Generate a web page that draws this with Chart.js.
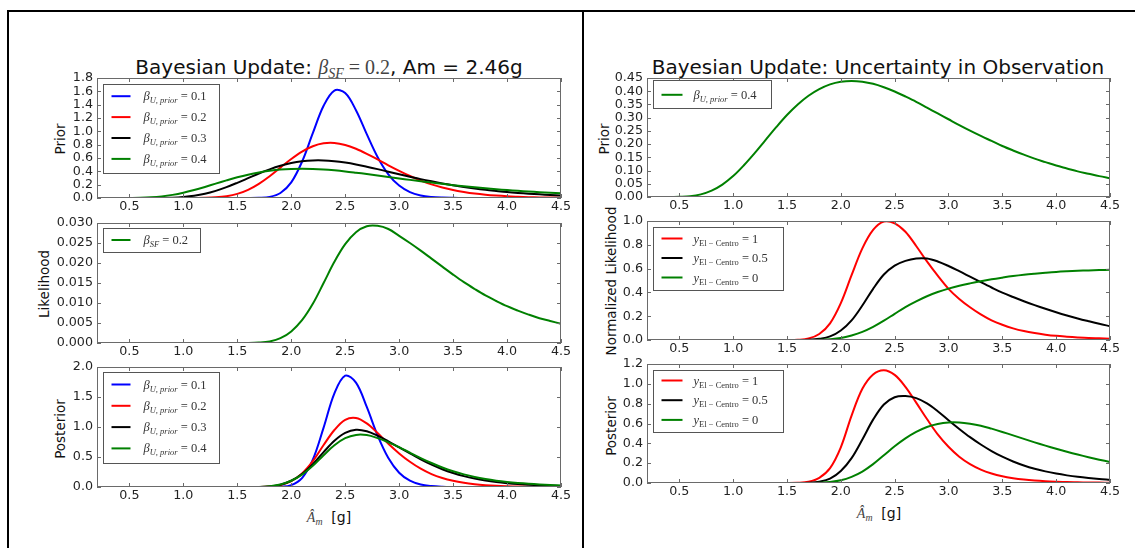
<!DOCTYPE html>
<html>
<head>
<meta charset="utf-8">
<script src="https://cdn.jsdelivr.net/npm/chart.js@4.4.0/dist/chart.umd.min.js"></script>
<style>
  body { margin: 0; width: 1135px; height: 548px; background: #fff; position: relative; overflow: hidden; font-family: "DejaVu Sans", sans-serif; color: #111; }
  canvas { position: absolute; }
  .rule { position: absolute; background: #000; }
  .title { position: absolute; top: 57px; font-size: 20px; line-height: 20px; white-space: nowrap; transform: translateX(-50%); }
  .mi { font-family: "Liberation Serif", serif; font-style: italic; color: #444; }
  .mr { font-family: "Liberation Serif", serif; color: #444; }
  .sub { position: relative; top: 0.3em; font-size: 70%; }
  .ylab { position: absolute; font-size: 13.5px; line-height: 1; white-space: nowrap; transform: translate(-50%, -50%) rotate(-90deg); }
  .xlab { position: absolute; font-size: 14px; line-height: 14px; white-space: nowrap; transform: translateX(-50%); }
</style>
</head>
<body>
<div class="rule" style="left:7px;top:10px;right:0;height:2px"></div>
<div class="rule" style="left:7px;top:10px;width:2px;bottom:0"></div>
<div class="rule" style="left:582px;top:10px;width:2px;bottom:0"></div>

<div class="title" style="left:329px">Bayesian Update: <span class="mi">β<span class="sub">SF</span></span><span class="mr"> = 0.2</span>, Am = 2.46g</div>
<div class="title" style="left:878px">Bayesian Update: Uncertainty in Observation</div>

<div class="ylab" style="left:61px;top:139px">Prior</div>
<div class="ylab" style="left:45px;top:284px">Likelihood</div>
<div class="ylab" style="left:61px;top:429px">Posterior</div>
<div class="ylab" style="left:605px;top:139px">Prior</div>
<div class="ylab" style="left:612px;top:281px">Normalized Likelihood</div>
<div class="ylab" style="left:612px;top:426px">Posterior</div>

<div class="xlab" style="left:329px;top:510px"><span class="mi">Â<span class="sub">m</span></span>&nbsp;&nbsp;[g]</div>
<div class="xlab" style="left:879px;top:506px"><span class="mi">Â<span class="sub">m</span></span>&nbsp;&nbsp;[g]</div>

<script>
// grille des abscisses Â_m [g]
const amGrid = [0.2, 0.3, 0.4, 0.5, 0.6, 0.7, 0.8, 0.9, 1.0, 1.1, 1.2, 1.3, 1.4, 1.5, 1.6, 1.7, 1.8, 1.9, 2.0, 2.1, 2.2,
  2.3, 2.4, 2.5, 2.6, 2.7, 2.8, 2.9, 3.0, 3.1, 3.2, 3.3, 3.4, 3.5, 3.6, 3.7, 3.8, 3.9, 4.0, 4.1, 4.2, 4.3, 4.4, 4.5];

// Prior, beta_U,prior = 0.1 / 0.2 / 0.3 / 0.4
const priorB01 = [0, 0, 0, 0, 0, 0, 0, 0, 0, 0, 0, 0, 0, 0, 0, 0.003, 0.017, 0.075, 0.234, 0.544, 0.972,
  1.383, 1.612, 1.575, 1.317, 0.958, 0.616, 0.355, 0.186, 0.089, 0.039, 0.016, 0.006, 0.002, 0, 0, 0, 0, 0, 0, 0, 0, 0, 0];
const priorB02 = [0, 0, 0, 0, 0, 0, 0, 0, 0, 0.001, 0.003, 0.010, 0.027, 0.062, 0.123, 0.213, 0.327, 0.456, 0.584, 0.695, 0.776,
  0.820, 0.825, 0.795, 0.738, 0.663, 0.578, 0.490, 0.407, 0.330, 0.263, 0.205, 0.158, 0.120, 0.091, 0.067, 0.049, 0.036, 0.026, 0.019, 0.013, 0.009, 0.007, 0.005];
const priorB03 = [0, 0, 0, 0, 0, 0, 0.002, 0.005, 0.015, 0.033, 0.063, 0.107, 0.163, 0.228, 0.297, 0.367, 0.430, 0.483, 0.524, 0.551, 0.564,
  0.564, 0.552, 0.531, 0.503, 0.469, 0.433, 0.395, 0.356, 0.319, 0.283, 0.250, 0.219, 0.191, 0.165, 0.142, 0.122, 0.105, 0.089, 0.076, 0.065, 0.055, 0.046, 0.039];
const priorB04 = [0, 0, 0, 0.001, 0.003, 0.010, 0.024, 0.047, 0.079, 0.120, 0.166, 0.215, 0.264, 0.310, 0.350, 0.383, 0.408, 0.426, 0.436, 0.439, 0.436,
  0.428, 0.415, 0.399, 0.380, 0.360, 0.338, 0.316, 0.294, 0.272, 0.251, 0.231, 0.212, 0.193, 0.176, 0.160, 0.145, 0.132, 0.119, 0.108, 0.097, 0.088, 0.079, 0.071];

// Vraisemblance, beta_SF = 0.2
const likeSF = [0, 0, 0, 0, 0, 0, 0, 0, 0, 0, 0, 0, 0, 0, 0, 0.0001, 0.0004, 0.0012, 0.0029, 0.0057, 0.0098,
  0.0150, 0.0203, 0.0247, 0.0277, 0.0292, 0.0293, 0.0285, 0.0268, 0.0250, 0.0231, 0.0211, 0.0191, 0.0171, 0.0152, 0.0135, 0.0119, 0.0105, 0.0092, 0.0081, 0.0071, 0.0062, 0.0055, 0.0048];

// Posterior pour chaque beta_U,prior
const postB01 = [0, 0, 0, 0, 0, 0, 0, 0, 0, 0, 0, 0, 0, 0, 0, 0, 0, 0.004, 0.032, 0.148, 0.455,
  0.990, 1.561, 1.855, 1.740, 1.334, 0.861, 0.483, 0.238, 0.105, 0.042, 0.016, 0.005, 0.001, 0, 0, 0, 0, 0, 0, 0, 0, 0, 0];
const postB02 = [0, 0, 0, 0, 0, 0, 0, 0, 0, 0, 0, 0, 0, 0, 0, 0, 0.007, 0.031, 0.096, 0.224, 0.430,
  0.700, 0.950, 1.120, 1.150, 1.060, 0.900, 0.720, 0.560, 0.420, 0.305, 0.215, 0.150, 0.103, 0.070, 0.047, 0.031, 0.020, 0.013, 0.008, 0.005, 0.003, 0.002, 0.001];
const postB03 = [0, 0, 0, 0, 0, 0, 0, 0, 0, 0, 0, 0, 0, 0, 0, 0, 0.009, 0.038, 0.104, 0.216, 0.380,
  0.581, 0.770, 0.901, 0.955, 0.930, 0.855, 0.760, 0.660, 0.560, 0.460, 0.372, 0.296, 0.233, 0.181, 0.140, 0.108, 0.083, 0.064, 0.049, 0.038, 0.029, 0.022, 0.017];
const postB04 = [0, 0, 0, 0, 0, 0, 0, 0, 0, 0, 0, 0, 0, 0, 0, 0, 0.013, 0.042, 0.104, 0.206, 0.353,
  0.530, 0.695, 0.813, 0.868, 0.865, 0.815, 0.745, 0.665, 0.572, 0.482, 0.400, 0.325, 0.262, 0.210, 0.167, 0.133, 0.106, 0.085, 0.068, 0.054, 0.043, 0.034, 0.027];

// Vraisemblance normalisee, y_El-Centro = 1 / 0.5 / 0
const likeG1 = [0, 0, 0, 0, 0, 0, 0, 0, 0, 0, 0, 0, 0, 0, 0.002, 0.012, 0.050, 0.140, 0.310, 0.545, 0.770,
  0.925, 0.995, 0.980, 0.910, 0.790, 0.660, 0.540, 0.430, 0.345, 0.275, 0.215, 0.165, 0.128, 0.098, 0.075, 0.058, 0.045, 0.035, 0.028, 0.022, 0.017, 0.014, 0.011];
const likeG05 = [0, 0, 0, 0, 0, 0, 0, 0, 0, 0, 0, 0, 0, 0, 0, 0.002, 0.010, 0.030, 0.080, 0.165, 0.290,
  0.430, 0.550, 0.625, 0.665, 0.685, 0.685, 0.660, 0.622, 0.578, 0.532, 0.486, 0.441, 0.398, 0.361, 0.326, 0.293, 0.262, 0.233, 0.206, 0.181, 0.158, 0.136, 0.116];
const likeG0 = [0, 0, 0, 0, 0, 0, 0, 0, 0, 0, 0, 0, 0, 0, 0, 0, 0.002, 0.006, 0.016, 0.038, 0.068,
  0.110, 0.162, 0.220, 0.277, 0.325, 0.368, 0.403, 0.432, 0.456, 0.476, 0.494, 0.510, 0.524, 0.537, 0.548, 0.557, 0.565, 0.572, 0.577, 0.581, 0.585, 0.588, 0.590];

// Posterior pour chaque y_El-Centro
const postG1 = [0, 0, 0, 0, 0, 0, 0, 0, 0, 0, 0, 0, 0, 0, 0.002, 0.013, 0.052, 0.150, 0.360, 0.680, 0.950,
  1.095, 1.138, 1.090, 0.970, 0.810, 0.645, 0.490, 0.365, 0.265, 0.190, 0.135, 0.096, 0.068, 0.049, 0.035, 0.025, 0.018, 0.013, 0.009, 0.007, 0.005, 0.004, 0.003];
const postG05 = [0, 0, 0, 0, 0, 0, 0, 0, 0, 0, 0, 0, 0, 0, 0, 0.003, 0.014, 0.044, 0.121, 0.251, 0.439,
  0.639, 0.792, 0.865, 0.877, 0.856, 0.803, 0.724, 0.633, 0.545, 0.462, 0.388, 0.322, 0.265, 0.217, 0.177, 0.144, 0.117, 0.095, 0.077, 0.062, 0.050, 0.040, 0.032];
const postG0 = [0, 0, 0, 0, 0, 0, 0, 0, 0, 0, 0, 0, 0, 0, 0, 0, 0.003, 0.010, 0.027, 0.062, 0.115,
  0.190, 0.280, 0.370, 0.450, 0.515, 0.565, 0.595, 0.610, 0.610, 0.598, 0.578, 0.548, 0.515, 0.480, 0.445, 0.410, 0.377, 0.345, 0.315, 0.287, 0.260, 0.235, 0.212];

// graduations
const xTicks = [0.5, 1.0, 1.5, 2.0, 2.5, 3.0, 3.5, 4.0, 4.5];
const yTicksPriorL = [0, 0.2, 0.4, 0.6, 0.8, 1.0, 1.2, 1.4, 1.6, 1.8];
const yTicksLike = [0, 0.005, 0.010, 0.015, 0.020, 0.025, 0.030];
const yTicksPostL = [0, 0.5, 1.0, 1.5, 2.0];
const yTicksPriorR = [0, 0.05, 0.10, 0.15, 0.20, 0.25, 0.30, 0.35, 0.40, 0.45];
const yTicksLikeR = [0, 0.2, 0.4, 0.6, 0.8, 1.0];
const yTicksPostR = [0, 0.2, 0.4, 0.6, 0.8, 1.0, 1.2];

// legendes
const priorBetas = ['0.1', '0.2', '0.3', '0.4'];
const gammaValues = ['1', '0.5', '0'];
const sfBeta = '0.2';

const BLUE = '#0000ff', RED = '#ff0000', BLACK = '#000000', GREEN = '#008000';
const MATH = '"Liberation Serif", serif';
const AXIS_W = 46, PAD_TOP = 12, PAD_RIGHT = 16, XAXIS_H = 24;

function betaLabel(sub, val) {
  return [
    { t: 'β', font: `italic 12.5px ${MATH}` },
    { t: sub, font: `italic 8.5px ${MATH}`, dy: 3 },
    { t: ' = ' + val, font: `12.5px ${MATH}` }
  ];
}

function gammaLabel(val) {
  return [
    { t: 'y', font: `italic 12.5px ${MATH}` },
    { t: 'El − Centro', font: `8.5px ${MATH}`, dy: 3 },
    { t: ' = ' + val, font: `12.5px ${MATH}` }
  ];
}

const priorColors = [BLUE, RED, BLACK, GREEN];
const gammaColors = [RED, BLACK, GREEN];

const panels = [
  { id: 'lt', left: 97, top: 78, w: 464, h: 120, yMax: 1.8, yTicks: yTicksPriorL, dec: 1,
    series: [priorB01, priorB02, priorB03, priorB04].map((v, i) => ({ values: v, color: priorColors[i], label: betaLabel('U, prior', priorBetas[i]) })),
    legend: { dx: 6, dy: 6, w: 116, h: 89, first: 11.7, row: 20.9, line0: 8, line1: 27, text: 40 } },
  { id: 'lm', left: 97, top: 223, w: 464, h: 120, yMax: 0.03, yTicks: yTicksLike, dec: 3,
    series: [{ values: likeSF, color: GREEN, label: betaLabel('SF', sfBeta) }],
    legend: { dx: 6, dy: 5, w: 97, h: 24, first: 11.5, row: 20, line0: 8, line1: 27, text: 40 } },
  { id: 'lb', left: 97, top: 367, w: 464, h: 120, yMax: 2.0, yTicks: yTicksPostL, dec: 1,
    series: [postB01, postB02, postB03, postB04].map((v, i) => ({ values: v, color: priorColors[i], label: betaLabel('U, prior', priorBetas[i]) })),
    legend: { dx: 6, dy: 5, w: 116, h: 91, first: 12, row: 21.3, line0: 8, line1: 27, text: 40 } },
  { id: 'rt', left: 647, top: 78, w: 463, h: 119, yMax: 0.45, yTicks: yTicksPriorR, dec: 2,
    series: [{ values: priorB04, color: GREEN, label: betaLabel('U, prior', priorBetas[3]) }],
    legend: { dx: 6, dy: 2, w: 118, h: 28, first: 14.3, row: 20, line0: 8, line1: 29, text: 40 } },
  { id: 'rm', left: 647, top: 221, w: 463, h: 119, yMax: 1.0, yTicks: yTicksLikeR, dec: 1,
    series: [likeG1, likeG05, likeG0].map((v, i) => ({ values: v, color: gammaColors[i], label: gammaLabel(gammaValues[i]) })),
    legend: { dx: 6, dy: 6, w: 130, h: 63, first: 11, row: 19.5, line0: 8, line1: 29, text: 40 } },
  { id: 'rb', left: 647, top: 364, w: 463, h: 119, yMax: 1.2, yTicks: yTicksPostR, dec: 1,
    series: [postG1, postG05, postG0].map((v, i) => ({ values: v, color: gammaColors[i], label: gammaLabel(gammaValues[i]) })),
    legend: { dx: 6, dy: 6, w: 130, h: 62, first: 10, row: 19.7, line0: 8, line1: 29, text: 40 } }
];

const tickFont = { family: '"DejaVu Sans", sans-serif', size: 12.7 };

// cadre, graduations vers l'interieur et legende dessinee a la main (indices en mathtext)
function framePlugin(p) {
  return {
    id: 'frame_' + p.id,
    afterDatasetsDraw(chart) {
      const { ctx, chartArea: a, scales: { x, y } } = chart;
      ctx.save();
      ctx.strokeStyle = '#6a6a6a';
      ctx.lineWidth = 1;
      ctx.beginPath();
      xTicks.forEach(v => {
        const px = Math.round(x.getPixelForValue(v)) + 0.5;
        ctx.moveTo(px, a.bottom); ctx.lineTo(px, a.bottom - 4);
        ctx.moveTo(px, a.top); ctx.lineTo(px, a.top + 4);
      });
      p.yTicks.forEach(v => {
        const py = Math.round(y.getPixelForValue(v)) + 0.5;
        ctx.moveTo(a.left, py); ctx.lineTo(a.left + 4, py);
        ctx.moveTo(a.right, py); ctx.lineTo(a.right - 4, py);
      });
      ctx.stroke();
      ctx.strokeRect(a.left + 0.5, a.top + 0.5, a.width - 1, a.height - 1);

      const lg = p.legend;
      const x0 = Math.round(a.left + lg.dx) + 0.5;
      const y0 = Math.round(a.top + lg.dy) + 0.5;
      ctx.fillStyle = '#fff';
      ctx.fillRect(x0, y0, lg.w, lg.h);
      ctx.strokeStyle = '#555';
      ctx.strokeRect(x0, y0, lg.w, lg.h);
      p.series.forEach((s, i) => {
        const yy = y0 + lg.first + i * lg.row;
        ctx.strokeStyle = s.color;
        ctx.lineWidth = 2;
        ctx.beginPath();
        ctx.moveTo(x0 + lg.line0, yy);
        ctx.lineTo(x0 + lg.line1, yy);
        ctx.stroke();
        let tx = x0 + lg.text;
        ctx.fillStyle = '#333';
        ctx.textBaseline = 'alphabetic';
        s.label.forEach(part => {
          ctx.font = part.font;
          ctx.fillText(part.t, tx, yy + 4 + (part.dy || 0));
          tx += ctx.measureText(part.t).width;
        });
      });
      ctx.restore();
    }
  };
}

function createPanel(p) {
  const canvas = document.createElement('canvas');
  const cw = AXIS_W + p.w + PAD_RIGHT;
  const ch = PAD_TOP + p.h + XAXIS_H;
  canvas.width = cw;
  canvas.height = ch;
  canvas.style.left = (p.left - AXIS_W) + 'px';
  canvas.style.top = (p.top - PAD_TOP) + 'px';
  document.body.appendChild(canvas);

  const n = p.series.length;
  return new Chart(canvas.getContext('2d'), {
    type: 'line',
    data: {
      datasets: p.series.map((s, i) => ({
        data: amGrid.map((x, k) => ({ x, y: s.values[k] })),
        borderColor: s.color,
        borderWidth: 2,
        pointRadius: 0,
        fill: false,
        tension: 0.35,
        order: n - 1 - i
      }))
    },
    options: {
      responsive: false,
      animation: false,
      devicePixelRatio: 1,
      events: [],
      layout: { padding: { left: 0, top: PAD_TOP, right: PAD_RIGHT, bottom: 0 } },
      plugins: { legend: { display: false }, tooltip: { enabled: false }, title: { display: false } },
      scales: {
        x: {
          type: 'linear', min: 0.2, max: 4.5,
          afterBuildTicks: s => { s.ticks = xTicks.map(v => ({ value: v })); },
          afterFit: s => { s.height = XAXIS_H; },
          ticks: { callback: v => v.toFixed(1), font: tickFont, color: '#222', padding: 1.5, maxRotation: 0, autoSkip: false },
          grid: { display: false, drawTicks: false },
          border: { display: false }
        },
        y: {
          type: 'linear', min: 0, max: p.yMax,
          afterBuildTicks: s => { s.ticks = p.yTicks.map(v => ({ value: v })); },
          afterFit: s => { s.width = AXIS_W; },
          ticks: { callback: v => v.toFixed(p.dec), font: tickFont, color: '#222', padding: 4, autoSkip: false },
          grid: { display: false, drawTicks: false },
          border: { display: false }
        }
      }
    },
    plugins: [framePlugin(p)]
  });
}

panels.forEach(createPanel);
</script>
</body>
</html>
